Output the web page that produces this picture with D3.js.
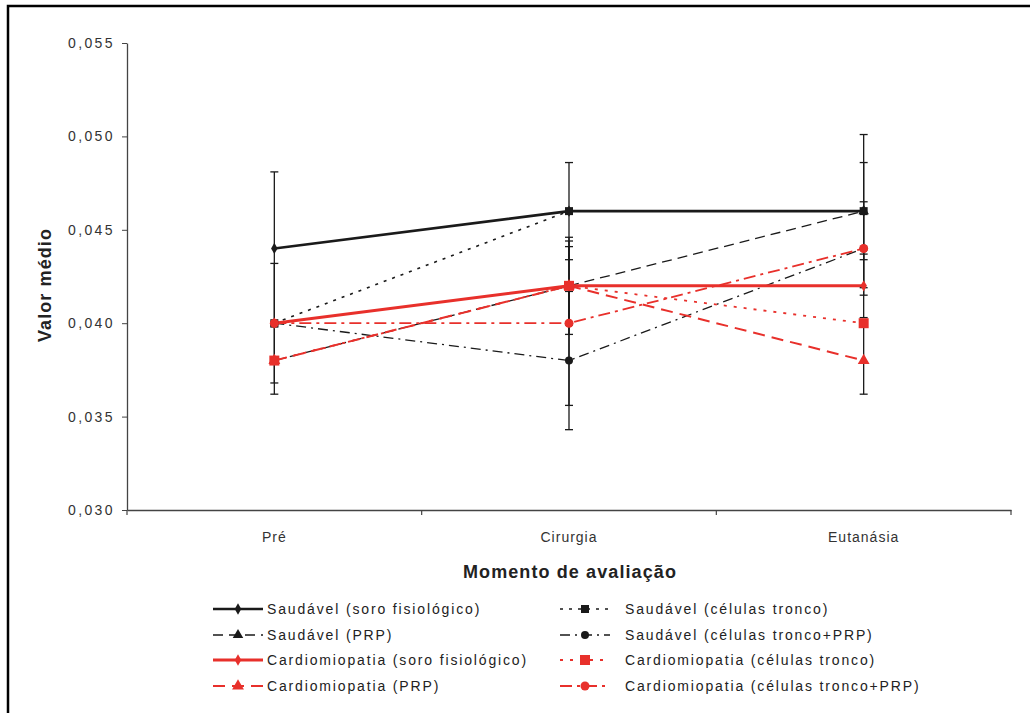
<!DOCTYPE html>
<html>
<head>
<meta charset="utf-8">
<script src="https://cdn.jsdelivr.net/npm/d3@7/dist/d3.min.js"></script>
<style>
  html, body { margin: 0; padding: 0; background: #fff; }
  svg { display: block; font-family: "Liberation Sans", Arial, sans-serif; }
</style>
</head>
<body>
<svg id="chart" width="1030" height="713"></svg>
<script>
// ---- data ----
const categories = ["Pré", "Cirurgia", "Eutanásia"];
const yTicks = [0.030, 0.035, 0.040, 0.045, 0.050, 0.055];

const seriesNames = [
  "Saudável (soro fisiológico)",
  "Saudável (células tronco)",
  "Saudável (PRP)",
  "Saudável (células tronco+PRP)",
  "Cardiomiopatia (soro fisiológico)",
  "Cardiomiopatia (células tronco)",
  "Cardiomiopatia (PRP)",
  "Cardiomiopatia (células tronco+PRP)"
];

const saudSoro   = [0.044, 0.046, 0.046];
const saudCT     = [0.040, 0.046, 0.046];
const saudPRP    = [0.038, 0.042, 0.046];
const saudCTPRP  = [0.040, 0.038, 0.044];
const cardSoro   = [0.040, 0.042, 0.042];
const cardCT     = [0.038, 0.042, 0.040];
const cardPRP    = [0.038, 0.042, 0.038];
const cardCTPRP  = [0.040, 0.040, 0.044];

// symmetric error (0 = not drawn)
const saudSoroErr  = [0.0041, 0.0026, 0.0041];
const saudCTErr    = [0.0032, 0, 0.0026];
const saudPRPErr   = [0.0018, 0.0026, 0];
const saudCTPRPErr = [0, 0.0037, 0.0025];
const cardSoroErr  = [0, 0.0021, 0.0017];
const cardCTErr    = [0, 0, 0];
const cardPRPErr   = [0, 0, 0.0018];
const cardCTPRPErr = [0, 0.0044, 0];

const BLACK = "#1a1a1a", RED = "#e8302b";
const styles = [
  {color: BLACK, width: 2.6, dash: null,         marker: "diamond", size: 7},
  {color: BLACK, width: 1.6, dash: "3,6",        marker: "square",  size: 8},
  {color: BLACK, width: 1.3, dash: "10,6",       marker: "triangle",size: 8},
  {color: BLACK, width: 1.3, dash: "10,5,2,5",   marker: "circle",  size: 8},
  {color: RED,   width: 3,   dash: null,         marker: "diamond", size: 7},
  {color: RED,   width: 1.8, dash: "3,7",        marker: "square",  size: 10},
  {color: RED,   width: 2,   dash: "12,7",       marker: "triangle",size: 9},
  {color: RED,   width: 1.8, dash: "12,5,3,5",   marker: "circle",  size: 9}
];

const allValues = [saudSoro, saudCT, saudPRP, saudCTPRP, cardSoro, cardCT, cardPRP, cardCTPRP];
const allErrs = [saudSoroErr, saudCTErr, saudPRPErr, saudCTPRPErr, cardSoroErr, cardCTErr, cardPRPErr, cardCTPRPErr];
const series = seriesNames.map((n, i) => ({name: n, values: allValues[i], errs: allErrs[i], style: styles[i]}));

// ---- chart ----
const svg = d3.select("#chart");

// outer frame
svg.append("rect").attr("x", 8).attr("y", 6).attr("width", 1040).attr("height", 720)
  .attr("fill", "none").attr("stroke", "#000").attr("stroke-width", 2.5);

const x = d3.scaleBand().domain(categories).range([127, 1011]);
const y = d3.scaleLinear().domain([0.030, 0.055]).range([510, 43]);
const cx = c => x(c) + x.bandwidth() / 2;

// y axis
const fmt = d => d3.format(".3f")(d).replace(".", ",");
const yAxis = svg.append("g").attr("transform", "translate(127,0)")
  .call(d3.axisLeft(y).tickValues(yTicks).tickFormat(fmt).tickSize(5).tickPadding(7).tickSizeOuter(0));
yAxis.select(".domain").attr("stroke", "#444").attr("stroke-width", 1.3);
yAxis.selectAll(".tick line").attr("stroke", "#444");
yAxis.selectAll(".tick text").attr("font-size", 14).attr("fill", "#333").attr("letter-spacing", 2.4)
  .attr("font-family", "'Liberation Sans', Arial, sans-serif");

// x axis
const xAxis = svg.append("g").attr("transform", "translate(0,510)")
  .call(d3.axisBottom(x).tickSize(0).tickPadding(22));
xAxis.select(".domain").attr("stroke", "#444").attr("stroke-width", 1.3);
xAxis.selectAll(".tick text").attr("font-size", 14).attr("fill", "#333").attr("letter-spacing", 1)
  .attr("font-family", "'Liberation Sans', Arial, sans-serif");
// category separator ticks
const sepX = categories.map(c => x(c) + x.bandwidth()).concat([x(categories[0])]);
xAxis.selectAll(".sep").data(sepX).enter().append("line")
  .attr("x1", d => d).attr("x2", d => d).attr("y1", 0).attr("y2", 5)
  .attr("stroke", "#444").attr("stroke-width", 1.2);

// axis titles
svg.append("text").attr("transform", "translate(51,285) rotate(-90)")
  .attr("text-anchor", "middle").attr("font-size", 18).attr("font-weight", "bold").attr("fill", "#222")
  .attr("letter-spacing", 1.1)
  .text("Valor médio");
svg.append("text").attr("x", 570).attr("y", 578)
  .attr("text-anchor", "middle").attr("font-size", 18).attr("font-weight", "bold").attr("fill", "#222")
  .attr("letter-spacing", 1.1)
  .text("Momento de avaliação");

// lines
const line = d3.line().x(d => cx(d.c)).y(d => y(d.v));
const plot = svg.append("g");
series.forEach(s => {
  const pts = categories.map((c, i) => ({c, v: s.values[i]}));
  plot.append("path").datum(pts).attr("d", line)
    .attr("fill", "none").attr("stroke", s.style.color).attr("stroke-width", s.style.width)
    .attr("stroke-dasharray", s.style.dash);
});

// error bars
const eg = svg.append("g").attr("stroke", BLACK).attr("stroke-width", 1.3);
series.forEach(s => {
  categories.forEach((c, i) => {
    const e = s.errs[i];
    if (!e) return;
    const xx = cx(c), lo = y(s.values[i] - e), hi = y(s.values[i] + e);
    eg.append("line").attr("x1", xx).attr("x2", xx).attr("y1", lo).attr("y2", hi);
    eg.append("line").attr("x1", xx - 4).attr("x2", xx + 4).attr("y1", lo).attr("y2", lo);
    eg.append("line").attr("x1", xx - 4).attr("x2", xx + 4).attr("y1", hi).attr("y2", hi);
  });
});

// markers
function drawMarker(g, type, px, py, size, color) {
  if (type === "circle") {
    g.append("circle").attr("cx", px).attr("cy", py).attr("r", size / 2).attr("fill", color);
  } else {
    const sym = {diamond: d3.symbolDiamond, square: d3.symbolSquare, triangle: d3.symbolTriangle}[type];
    g.append("path").attr("d", d3.symbol().type(sym).size(size * size * (type === "square" ? 1 : 0.75))())
      .attr("transform", `translate(${px},${py})`).attr("fill", color);
  }
}
const mg = svg.append("g");
series.forEach(s => {
  categories.forEach((c, i) => drawMarker(mg, s.style.marker, cx(c), y(s.values[i]), s.style.size, s.style.color));
});

// legend
const legX = [213, 560], legTextX = [267, 625], legY = [609, 635, 660, 686];
const order = [[0, 0], [1, 0], [0, 1], [1, 1], [0, 2], [1, 2], [0, 3], [1, 3]]; // [col,row] per series
const lg = svg.append("g");
series.forEach((s, i) => {
  const [col, row] = order[i];
  const ly = legY[row];
  lg.append("line").attr("x1", legX[col]).attr("x2", legX[col] + 50).attr("y1", ly).attr("y2", ly)
    .attr("stroke", s.style.color).attr("stroke-width", s.style.width).attr("stroke-dasharray", s.style.dash);
  drawMarker(lg, s.style.marker, legX[col] + 25, ly, s.style.size, s.style.color);
  lg.append("text").attr("x", legTextX[col]).attr("y", ly + 5).attr("font-size", 14).attr("fill", "#222")
    .attr("letter-spacing", 1.85)
    .text(s.name);
});
</script>
</body>
</html>
